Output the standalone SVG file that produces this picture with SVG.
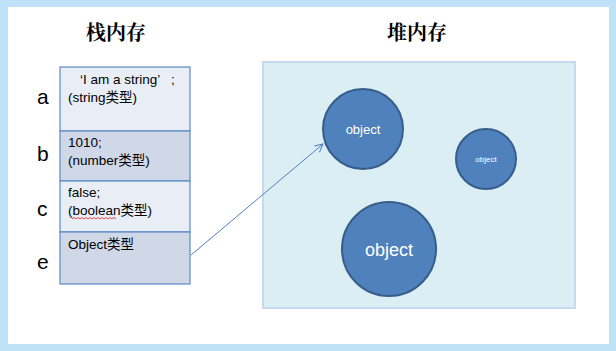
<svg xmlns="http://www.w3.org/2000/svg" width="616" height="351" viewBox="0 0 616 351">
<defs>
<style>
.title{font-family:"Noto Serif CJK SC","Noto Sans CJK SC",serif;font-size:20px;font-weight:bold;fill:#000}
.lbl{font-family:"Liberation Sans","Noto Sans CJK SC",sans-serif;font-size:21px;fill:#000}
.cell{font-family:"Liberation Sans","Noto Sans CJK SC",sans-serif;font-size:13.5px;fill:#000}
.row{stroke:#5b8ac4;stroke-width:1.2}
.light{fill:#e9eef6}
.dark{fill:#d0d8e8}
.obj{fill:#4f81bd;stroke:#385d8a;stroke-width:2}
.otxt{font-family:"Liberation Sans",sans-serif;fill:#fff;text-anchor:middle}
</style>
<marker id="arr" markerWidth="10" markerHeight="10" refX="9" refY="5" orient="auto" markerUnits="userSpaceOnUse">
<path d="M1,1 L9,5 L1,9" fill="none" stroke="#4f81bd" stroke-width="1"/>
</marker>
</defs>
<rect x="0" y="0" width="616" height="351" fill="#c0e2f8"/>
<rect x="8" y="7" width="601" height="337" fill="#fff"/>
<text class="title" x="86" y="40">栈内存</text>
<text class="title" x="387" y="40">堆内存</text>
<g id="stack">
<g id="row-a">
<rect class="row light" x="60" y="67" width="130" height="64"/>
<text class="lbl" x="37" y="104">a</text>
<text class="cell" x="80" y="84">‘I am a string’</text>
<text class="cell" x="171" y="84">;</text>
<text class="cell" x="68" y="102">(string类型)</text>
</g>
<g id="row-b">
<rect class="row dark" x="60" y="131" width="130" height="50"/>
<text class="lbl" x="37" y="161">b</text>
<text class="cell" x="68" y="147">1010;</text>
<text class="cell" x="68" y="165">(number类型)</text>
</g>
<g id="row-c">
<rect class="row light" x="60" y="181" width="130" height="51"/>
<text class="lbl" x="37" y="216">c</text>
<text class="cell" x="68" y="197">false;</text>
<text class="cell" x="68" y="215">(boolean类型)</text>
<path d="M72,219 l2,-1.5 l2,1.5 l2,-1.5 l2,1.5 l2,-1.5 l2,1.5 l2,-1.5 l2,1.5 l2,-1.5 l2,1.5 l2,-1.5 l2,1.5 l2,-1.5 l2,1.5 l2,-1.5 l2,1.5 l2,-1.5 l2,1.5 l2,-1.5 l2,1.5 l2,-1.5 l2,1.5" fill="none" stroke="#e02020" stroke-width="0.8"/>
</g>
<g id="row-e">
<rect class="row dark" x="60" y="232" width="130" height="52"/>
<text class="lbl" x="37" y="269">e</text>
<text class="cell" x="68" y="249">Object类型</text>
</g>
</g>
<g id="heap">
<rect x="263" y="62" width="312" height="246" fill="#daeef3" stroke="#c6d9ee" stroke-width="2"/>
</g>
<g id="obj1">
<circle class="obj" cx="363" cy="129" r="40"/>
<text class="otxt" x="363" y="134" font-size="13">object</text>
</g>
<g id="obj2">
<circle class="obj" cx="486" cy="159" r="30"/>
<text class="otxt" x="486" y="162" font-size="8">object</text>
</g>
<g id="obj3">
<circle class="obj" cx="389" cy="249" r="47"/>
<text class="otxt" x="389" y="256" font-size="18">object</text>
</g>
<g id="connectors">
<line x1="191" y1="255" x2="323" y2="144" stroke="#4f81bd" stroke-width="1" marker-end="url(#arr)"/>
</g>
</svg>
